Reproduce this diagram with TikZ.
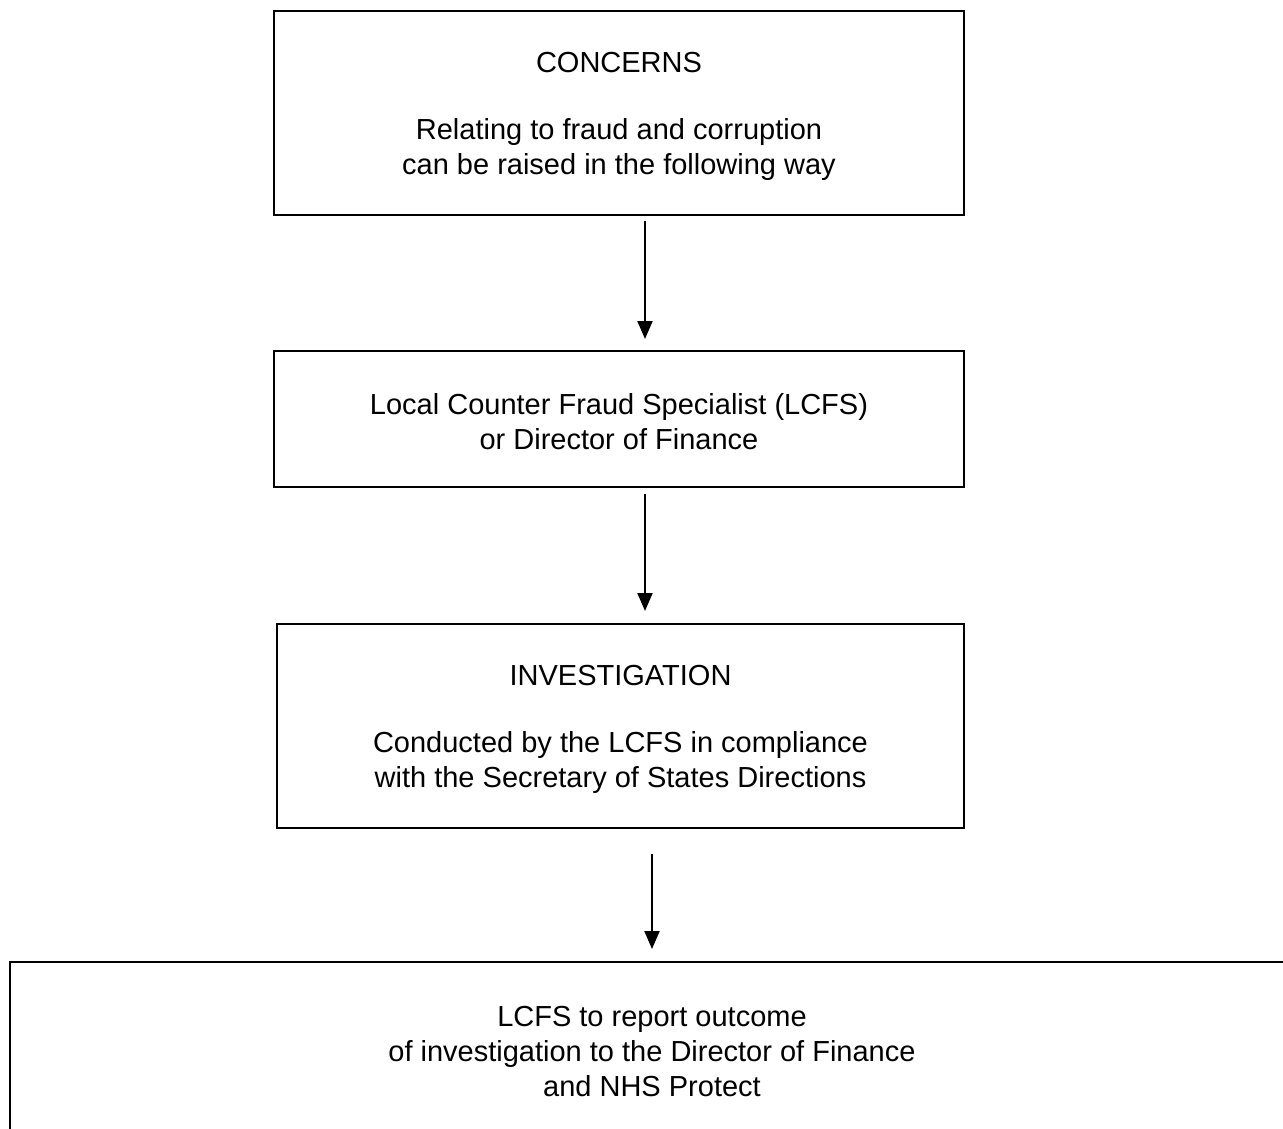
\documentclass[tikz,border=0pt]{standalone}
\usepackage{fontspec}
\setmainfont{Liberation Sans}
\usetikzlibrary{arrows.meta}
\begin{document}
\begin{tikzpicture}[x=1pt,y=-1pt,
  box/.style={draw,line width=2pt,align=center,inner sep=0pt,font=\fontsize{29}{35}\selectfont},
  arr/.style={line width=2pt,-{Triangle[length=18pt,width=15pt]}}]
\useasboundingbox (0,0) rectangle (1283,1129);
\clip (0,0) rectangle (1283,1129);
\node[box,minimum width=690pt,minimum height=204pt] (b1) at (619,113)
  {\rule{0pt}{28pt}CONCERNS\\[32pt]Relating to fraud and corruption\\can be raised in the following way};
\node[box,minimum width=690pt,minimum height=136pt] (b2) at (619,419)
  {\rule{0pt}{26pt}Local Counter Fraud Specialist (LCFS)\\or Director of Finance};
\node[box,minimum width=687pt,minimum height=204pt] (b3) at (620.5,726)
  {\rule{0pt}{28pt}INVESTIGATION\\[32pt]Conducted by the LCFS in compliance\\with the Secretary of States Directions};
\node[box,minimum width=1284pt,minimum height=176pt] (b4) at (652,1050)
  {\rule{0pt}{24pt}LCFS to report outcome\\of investigation to the Director of Finance\\and NHS Protect};
\coordinate (x1) at (645,0);
\coordinate (x3) at (652,0);
\draw[arr] ([yshift=-5pt]b1.south -| x1) -- ([yshift=11pt]b2.north -| x1);
\draw[arr] ([yshift=-6pt]b2.south -| x1) -- ([yshift=12pt]b3.north -| x1);
\draw[arr] ([yshift=-25pt]b3.south -| x3) -- ([yshift=12pt]b4.north -| x3);
\end{tikzpicture}
\end{document}
